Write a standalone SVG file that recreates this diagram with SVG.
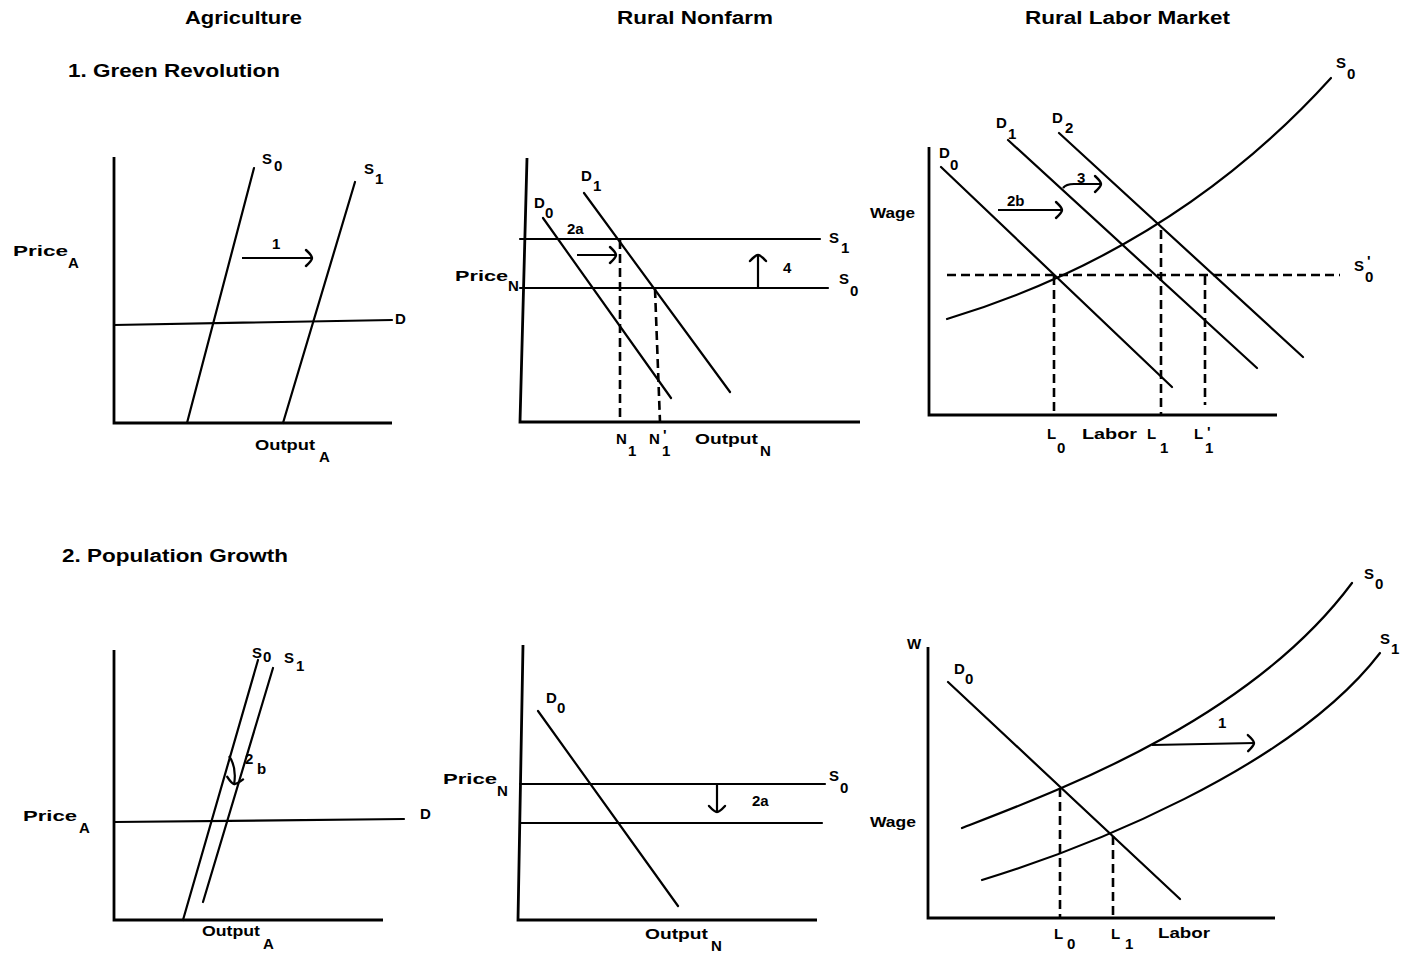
<svg xmlns="http://www.w3.org/2000/svg" width="1403" height="953" viewBox="0 0 1403 953">
<style>
.ln{fill:none;stroke:#000;stroke-width:2.2;stroke-linecap:round}
.ax{fill:none;stroke:#000;stroke-width:2.8}
.ds{fill:none;stroke:#000;stroke-width:2.6;stroke-dasharray:9 5}
.ar{fill:none;stroke:#000;stroke-width:2.2;marker-end:url(#hd)}
.t{font-family:"Liberation Sans",Arial,sans-serif;font-weight:bold;font-size:18px;fill:#000}
.l{font-family:"Liberation Sans",Arial,sans-serif;font-weight:bold;font-size:15px;fill:#000}
.s{font-family:"Liberation Sans",Arial,sans-serif;font-weight:bold;font-size:15px;fill:#000}
</style>
<defs>
<marker id="hd" markerUnits="userSpaceOnUse" markerWidth="16" markerHeight="20" refX="1" refY="0" viewBox="-10 -10 12 20" orient="auto" overflow="visible">
<path d="M-6,-8 Q0,-2.5 0,0 Q0,2.5 -6,8" fill="none" stroke="#000" stroke-width="2.4" stroke-linecap="round"/>
</marker>
</defs>
<rect width="1403" height="953" fill="#fff"/>

<g id="titles">
<text class="t" x="185" y="24" textLength="117" lengthAdjust="spacingAndGlyphs">Agriculture</text>
<text class="t" x="617" y="24" textLength="156" lengthAdjust="spacingAndGlyphs">Rural Nonfarm</text>
<text class="t" x="1025" y="24" textLength="205" lengthAdjust="spacingAndGlyphs">Rural Labor Market</text>
<text class="t" x="68" y="77" textLength="212" lengthAdjust="spacingAndGlyphs">1. Green Revolution</text>
<text class="t" x="62" y="562" textLength="226" lengthAdjust="spacingAndGlyphs">2. Population Growth</text>
</g>

<g id="p1-agriculture-green">
<path class="ax" d="M114,157 L114,423 L392,423"/>
<path class="ln" d="M187,423 L254,168"/>
<path class="ln" d="M283,423 L355,182"/>
<path class="ln" d="M114,325 L392,320"/>
<path class="ar" d="M242,258 L313,258"/>
<text class="l" x="13" y="256" textLength="55" lengthAdjust="spacingAndGlyphs">Price</text><text class="s" x="68" y="268">A</text>
<text class="l" x="262" y="164">S</text><text class="s" x="274" y="171">0</text>
<text class="l" x="364" y="174">S</text><text class="s" x="375" y="184">1</text>
<text class="l" x="272" y="249">1</text>
<text class="l" x="395" y="324">D</text>
<text class="l" x="255" y="450" textLength="60" lengthAdjust="spacingAndGlyphs">Output</text><text class="s" x="319" y="462">A</text>
</g>

<g id="p2-nonfarm-green">
<path class="ax" d="M527,158 L520,422 L860,422"/>
<path class="ln" d="M520,239 L820,239"/>
<path class="ln" d="M520,288 L828,288"/>
<path class="ln" d="M543,218 L671,398"/>
<path class="ln" d="M584,193 L730,392"/>
<path class="ds" d="M620,240 L620,422"/>
<path class="ds" d="M655,289 L660,422"/>
<path class="ar" d="M577,255 L617,255"/>
<path class="ar" d="M758,288 L758,254"/>
<text class="l" x="581" y="181">D</text><text class="s" x="593" y="191">1</text>
<text class="l" x="534" y="208">D</text><text class="s" x="545" y="218">0</text>
<text class="l" x="567" y="234">2a</text>
<text class="l" x="829" y="243">S</text><text class="s" x="841" y="253">1</text>
<text class="l" x="839" y="284">S</text><text class="s" x="850" y="296">0</text>
<text class="l" x="783" y="273">4</text>
<text class="l" x="455" y="281" textLength="53" lengthAdjust="spacingAndGlyphs">Price</text><text class="s" x="508" y="291">N</text>
<text class="l" x="616" y="444">N</text><text class="s" x="628" y="456">1</text>
<text class="l" x="649" y="444">N</text><text class="s" x="662" y="456">1</text><text class="s" x="663" y="440">'</text>
<text class="l" x="695" y="444" textLength="63" lengthAdjust="spacingAndGlyphs">Output</text><text class="s" x="760" y="456">N</text>
</g>

<g id="p3-labor-green">
<path class="ax" d="M929,147 L929,415 L1277,415"/>
<path class="ln" d="M947,319 Q1175,250 1331,78"/>
<path class="ds" d="M947,275 L1340,275"/>
<path class="ln" d="M941,167 L1172,387"/>
<path class="ln" d="M1008,140 L1257,368"/>
<path class="ln" d="M1059,133 L1303,357"/>
<path class="ds" d="M1054,276 L1054,415"/>
<path class="ds" d="M1161,230 L1161,415"/>
<path class="ds" d="M1205,276 L1205,405"/>
<path class="ar" d="M998,210 L1063,210"/>
<path class="ar" d="M1063,188 Q1066,184 1074,184 L1102,184"/>
<text class="l" x="870" y="218" textLength="45" lengthAdjust="spacingAndGlyphs">Wage</text>
<text class="l" x="939" y="158">D</text><text class="s" x="950" y="170">0</text>
<text class="l" x="996" y="128">D</text><text class="s" x="1008" y="139">1</text>
<text class="l" x="1052" y="123">D</text><text class="s" x="1065" y="133">2</text>
<text class="l" x="1077" y="183">3</text>
<text class="l" x="1007" y="206">2b</text>
<text class="l" x="1336" y="68">S</text><text class="s" x="1347" y="79">0</text>
<text class="l" x="1354" y="271">S</text><text class="s" x="1365" y="282">0</text><text class="s" x="1367" y="266">'</text>
<text class="l" x="1047" y="439">L</text><text class="s" x="1057" y="453">0</text>
<text class="l" x="1082" y="439" textLength="55" lengthAdjust="spacingAndGlyphs">Labor</text>
<text class="l" x="1147" y="439">L</text><text class="s" x="1160" y="453">1</text>
<text class="l" x="1194" y="439">L</text><text class="s" x="1205" y="453">1</text><text class="s" x="1207" y="437">'</text>
</g>

<g id="p4-agriculture-pop">
<path class="ax" d="M114,650 L114,920 L383,920"/>
<path class="ln" d="M183,920 L258,660"/>
<path class="ln" d="M203,902 L273,668"/>
<path class="ln" d="M114,822 L404,819"/>
<path class="ar" d="M229,756 Q237,767 234,785"/>
<text class="l" x="252" y="658">S</text><text class="s" x="263" y="662">0</text>
<text class="l" x="284" y="663">S</text><text class="s" x="296" y="671">1</text>
<text class="l" x="245" y="764">2</text><text class="s" x="257" y="774">b</text>
<text class="l" x="420" y="819">D</text>
<text class="l" x="23" y="821" textLength="54" lengthAdjust="spacingAndGlyphs">Price</text><text class="s" x="79" y="833">A</text>
<text class="l" x="202" y="936" textLength="58" lengthAdjust="spacingAndGlyphs">Output</text><text class="s" x="263" y="949">A</text>
</g>

<g id="p5-nonfarm-pop">
<path class="ax" d="M523,645 L518,920 L817,920"/>
<path class="ln" d="M520,784 L825,784"/>
<path class="ln" d="M520,823 L822,823"/>
<path class="ln" d="M538,711 L678,906"/>
<path class="ar" d="M717,785 L717,813"/>
<text class="l" x="546" y="703">D</text><text class="s" x="557" y="713">0</text>
<text class="l" x="443" y="784" textLength="54" lengthAdjust="spacingAndGlyphs">Price</text><text class="s" x="497" y="796">N</text>
<text class="l" x="829" y="781">S</text><text class="s" x="840" y="793">0</text>
<text class="l" x="752" y="806">2a</text>
<text class="l" x="645" y="939" textLength="63" lengthAdjust="spacingAndGlyphs">Output</text><text class="s" x="711" y="951">N</text>
</g>

<g id="p6-labor-pop">
<path class="ax" d="M928,647 L928,918 L1275,918"/>
<path class="ln" d="M962,828 C1060,790 1250,720 1352,583"/>
<path class="ln" d="M982,880 C1080,850 1290,770 1380,653"/>
<path class="ln" d="M948,682 L1180,899"/>
<path class="ds" d="M1060,788 L1060,918"/>
<path class="ds" d="M1113,836 L1113,918"/>
<path class="ar" d="M1152,745 L1255,743"/>
<text class="l" x="907" y="649">W</text>
<text class="l" x="954" y="674">D</text><text class="s" x="965" y="684">0</text>
<text class="l" x="870" y="827" textLength="46" lengthAdjust="spacingAndGlyphs">Wage</text>
<text class="l" x="1218" y="728">1</text>
<text class="l" x="1364" y="579">S</text><text class="s" x="1375" y="589">0</text>
<text class="l" x="1380" y="644">S</text><text class="s" x="1391" y="654">1</text>
<text class="l" x="1054" y="939">L</text><text class="s" x="1067" y="949">0</text>
<text class="l" x="1111" y="939">L</text><text class="s" x="1125" y="949">1</text>
<text class="l" x="1158" y="938" textLength="52" lengthAdjust="spacingAndGlyphs">Labor</text>
</g>
</svg>
